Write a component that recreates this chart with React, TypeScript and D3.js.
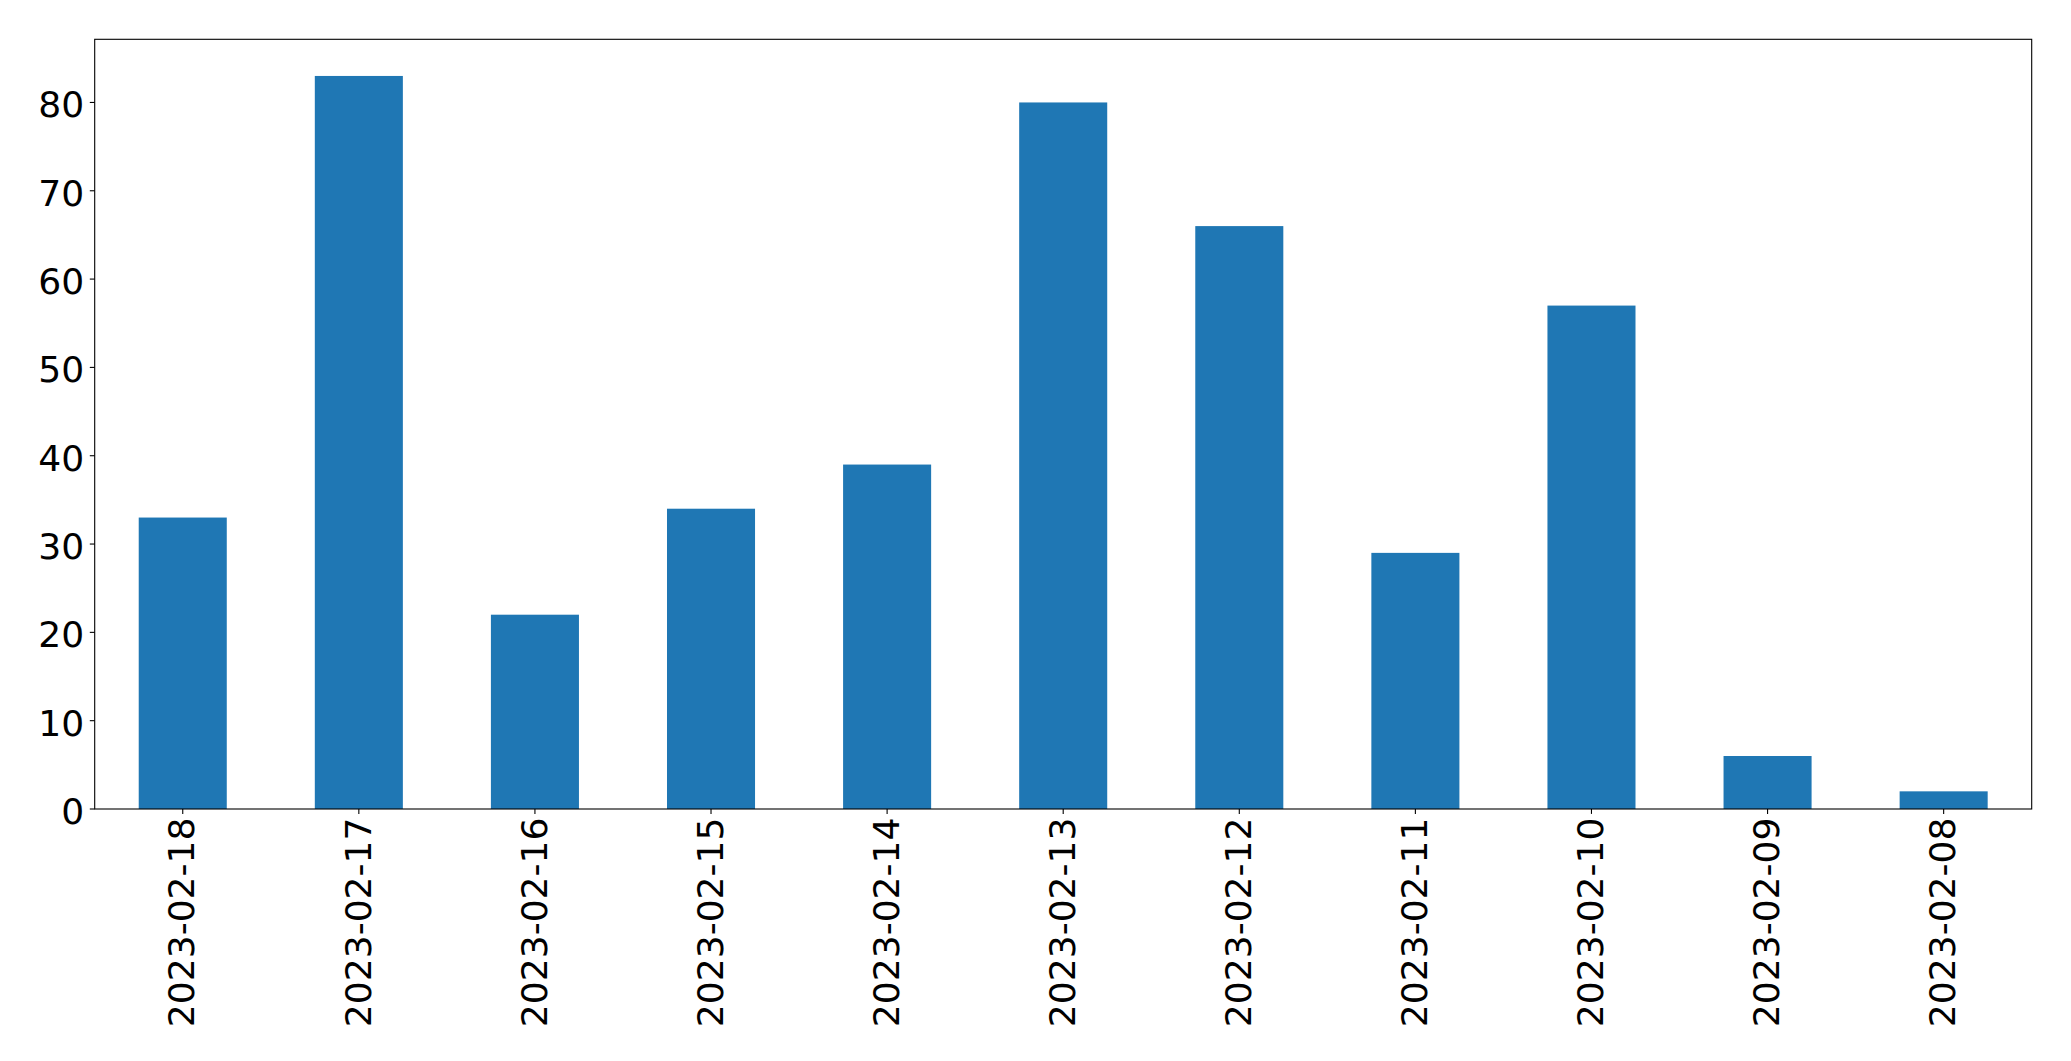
import React from "react";
import * as d3 from "d3";

const categories = ["2023-02-18","2023-02-17","2023-02-16","2023-02-15","2023-02-14","2023-02-13","2023-02-12","2023-02-11","2023-02-10","2023-02-09","2023-02-08"];
const values = [33, 83, 22, 34, 39, 80, 66, 29, 57, 6, 2];
const yTicks = [0, 10, 20, 30, 40, 50, 60, 70, 80];

const W = 2071, H = 1061;
const left = 94.7, right = 2031.7, top = 39.3, bottom = 809;
const FONT = "'DejaVu Sans', sans-serif";
const FS = 36.1;

export default function App() {
  const x = d3.scaleBand<string>().domain(categories).range([left, right]).paddingInner(0.5).paddingOuter(0.25);
  const yMax = d3.max(values)! * 1.05;
  const y = d3.scaleLinear().domain([0, yMax]).range([bottom, top]);
  return (
    <svg width={W} height={H} style={{ position: "absolute", left: 0, top: 0, background: "#fff" }}>
      <rect x={0} y={0} width={W} height={H} fill="#fff" />
      {categories.map((c, i) => (
        <rect key={c} x={x(c)} y={y(values[i])} width={x.bandwidth()} height={bottom - y(values[i])} fill="#1f77b4" />
      ))}
      <rect x={left} y={top} width={right - left} height={bottom - top} fill="none" stroke="#000" strokeWidth={1.1} />
      {yTicks.map((t) => (
        <g key={t}>
          <line x1={left - 4.9} x2={left} y1={y(t)} y2={y(t)} stroke="#000" strokeWidth={1.1} />
          <text x={84.2} y={y(t) + 15} textAnchor="end" fontFamily={FONT} fontSize={FS} fill="#000">{t}</text>
        </g>
      ))}
      {categories.map((c) => {
        const cx = x(c)! + x.bandwidth() / 2;
        return (
          <g key={c}>
            <line x1={cx} x2={cx} y1={bottom} y2={bottom + 4.9} stroke="#000" strokeWidth={1.1} />
            <text transform={`translate(${cx + 11.7},${bottom + 8.5}) rotate(-90)`} textAnchor="end" fontFamily={FONT} fontSize={FS} fill="#000">{c}</text>
          </g>
        );
      })}
    </svg>
  );
}
